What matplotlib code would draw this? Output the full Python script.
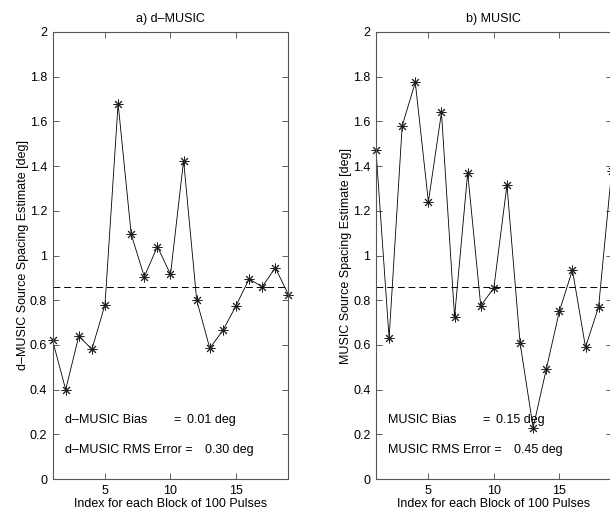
import matplotlib
matplotlib.use("Agg")
import matplotlib.pyplot as plt

plt.rcParams['font.family'] = ['Liberation Sans', 'DejaVu Sans']
plt.rcParams['font.size'] = 9

blocks = list(range(1, 20))
dmusic = [0.62, 0.40, 0.64, 0.58, 0.78, 1.68, 1.095, 0.905, 1.04, 0.915,
          1.425, 0.80, 0.585, 0.665, 0.775, 0.895, 0.86, 0.945, 0.825]
music = [1.47, 0.63, 1.58, 1.775, 1.24, 1.64, 0.725, 1.37, 0.775, 0.855,
         1.315, 0.61, 0.23, 0.49, 0.75, 0.935, 0.59, 0.77, 1.38]
true_spacing = 0.86
titles = ["a) d\u2013MUSIC", "b) MUSIC"]
ylabels = ["d\u2013MUSIC Source Spacing Estimate [deg]",
           "MUSIC Source Spacing Estimate [deg]"]
xlabel = "Index for each Block of 100 Pulses"
yticks = [0, 0.2, 0.4, 0.6, 0.8, 1.0, 1.2, 1.4, 1.6, 1.8, 2.0]
yticklabels = ["0", "0.2", "0.4", "0.6", "0.8", "1", "1.2", "1.4", "1.6", "1.8", "2"]
xticks = [5, 10, 15]
annots = [
    [("d\u2013MUSIC Bias", "=", "0.01 deg"), ("d\u2013MUSIC RMS Error =", "", "0.30 deg")],
    [("MUSIC Bias", "=", "0.15 deg"), ("MUSIC RMS Error =", "", "0.45 deg")],
]

W, H = 610, 512
fig = plt.figure(figsize=(W / 100, H / 100), dpi=100)
positions = [(52.6, 288.4), (376.0, 611.7)]
top, bottom = 32, 479
eq_px = [(173, 187.5, 205), (482, 496, 514)]
series = [dmusic, music]

for i, (x0, x1) in enumerate(positions):
    ax = fig.add_axes([x0 / W, (H - bottom) / H, (x1 - x0) / W, (bottom - top) / H])
    ax.plot(blocks, series[i], color='black', lw=0.6,
            marker=(8, 2, 0), markersize=7, markeredgewidth=0.7,
            markeredgecolor='#222222', clip_on=False)
    ax.axhline(true_spacing, color='black', lw=0.7, dashes=(7, 4))
    ax.set_xlim(1, 19)
    ax.set_ylim(0, 2)
    ax.set_xticks(xticks)
    ax.set_yticks(yticks)
    ax.set_yticklabels(yticklabels)
    ax.tick_params(direction='in', top=True, right=True, length=4, width=0.6,
                   color='#444444', pad=4)
    for s in ax.spines.values():
        s.set_linewidth(0.8)
        s.set_color('#555555')
    ax.set_title(titles[i], pad=7, fontsize=9)
    ax.set_xlabel(xlabel, labelpad=1)
    ax.set_ylabel(ylabels[i])
    ax.yaxis.set_label_coords(-0.10, 0.5)
    # annotations
    xa = lambda px: 1 + (px - x0) / ((x1 - x0) / 18)
    ya = lambda py: (bottom - py) / ((bottom - top) / 2)
    lx = x0 + 12.5
    (l1, e1, v1), (l2, e2, v2) = annots[i]
    ax.text(xa(lx), ya(420), l1, va='center', ha='left')
    ax.text(xa(eq_px[i][0]), ya(420), e1, va='center', ha='left')
    ax.text(xa(eq_px[i][1]), ya(420), v1, va='center', ha='left')
    ax.text(xa(lx), ya(450), l2, va='center', ha='left')
    ax.text(xa(eq_px[i][2]), ya(450), v2, va='center', ha='left')

fig.savefig("out.png", dpi=100)
